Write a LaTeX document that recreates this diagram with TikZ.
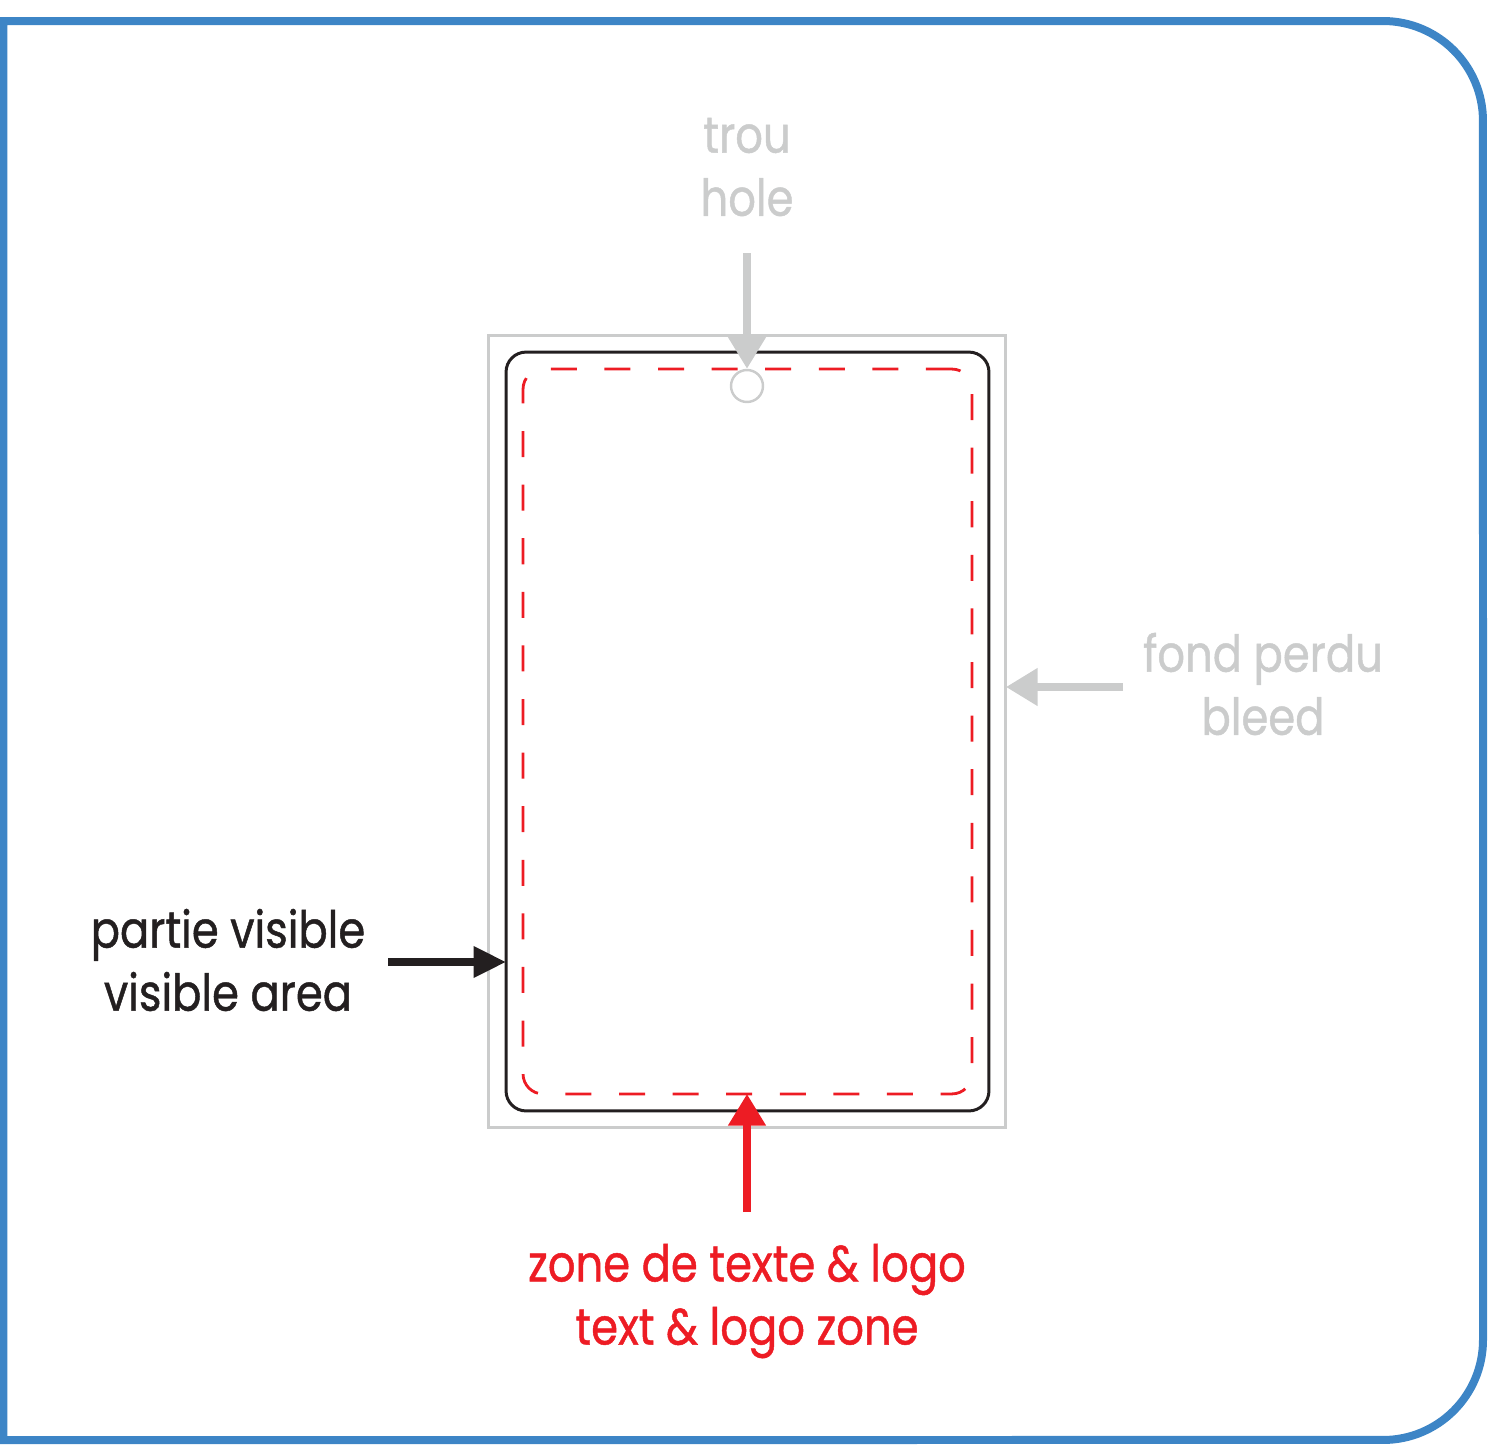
\documentclass[tikz,border=0pt]{standalone}
\usepackage{fontspec}
\setmainfont{Poppins}[FakeStretch=0.85, FakeBold=0.9]
\usepackage{tikz}
\usetikzlibrary{
    arrows.meta,
    calc,
    positioning
}
\definecolor{bleedgray}{HTML}{CBCCCC}
\definecolor{inkblack}{HTML}{231F20}
\definecolor{zonered}{HTML}{ED1C24}
\definecolor{frameblue}{HTML}{3D85C6}

\begin{document}
\begin{tikzpicture}[x=0.02cm, y=-0.02cm,
    note/.style={align=center, font=\fontsize{29}{35.9}\selectfont},
    pointer/.style={line width=4.2pt, -{Triangle[length=18pt, width=20.5pt]}},
    box/.style={inner sep=0pt, outer sep=0pt, rounded corners=0.4cm}]
                        \useasboundingbox (0,0) rectangle (1492,1454);
                        \draw[frameblue, line width=0.16cm] (3.5,1440) -- (3.5,21) -- (1383,21)
                            arc[start angle=90, end angle=0, radius=2cm] -- (1483,1340)
                            arc[start angle=0, end angle=-90, radius=2cm] -- cycle;

                        \node[box, draw=bleedgray, line width=1.7pt, rounded corners=0pt,
                              minimum width=10.36cm, minimum height=15.86cm] (bleed) at (747,731.5) {};
                        \node[box, draw=inkblack, line width=1.7pt,
                              minimum width=9.66cm, minimum height=15.18cm] (visible) at (747.5,731.5) {};
                        \node[box, draw=zonered, line width=1.6pt, rounded corners=0.4cm,
                              dash pattern=on 14.8pt off 15.7pt,
                              minimum width=8.98cm, minimum height=14.5cm] (safe) at (747.5,731.5) {};
                        \node[draw=bleedgray, line width=1.4pt, circle, inner sep=0pt,
                              minimum size=0.64cm] (hole) at (747,386) {};

                        \node[note, text=bleedgray] (trou) at (747,167) {trou\\hole};
                        \node[note, text=inkblack] (partie) at (228,960) {partie visible\\visible area};
                        \node[note, text=bleedgray] (fond) at (1263,684) {fond perdu\\bleed};
                        \node[note, text=zonered] (zone) at (747,1301) {zone de texte \& logo\\text \& logo zone};

                        \coordinate (holetail) at (747,253);
                        \coordinate (partietail) at (388,962);
                        \coordinate (fondtail) at (1123,687);
                        \coordinate (zonetail) at (747,1212);

                        \draw[pointer, bleedgray] (holetail) -- (hole.north);
                        \draw[pointer, inkblack, -{Triangle[length=18.5pt, width=17pt]}] (partietail) -- (partietail -| visible.west);
                        \draw[pointer, bleedgray] (fondtail) -- (fondtail -| bleed.east);
                        \draw[pointer, zonered] (zonetail) -- (zonetail |- safe.south);
                    \end{tikzpicture}
\end{document}
